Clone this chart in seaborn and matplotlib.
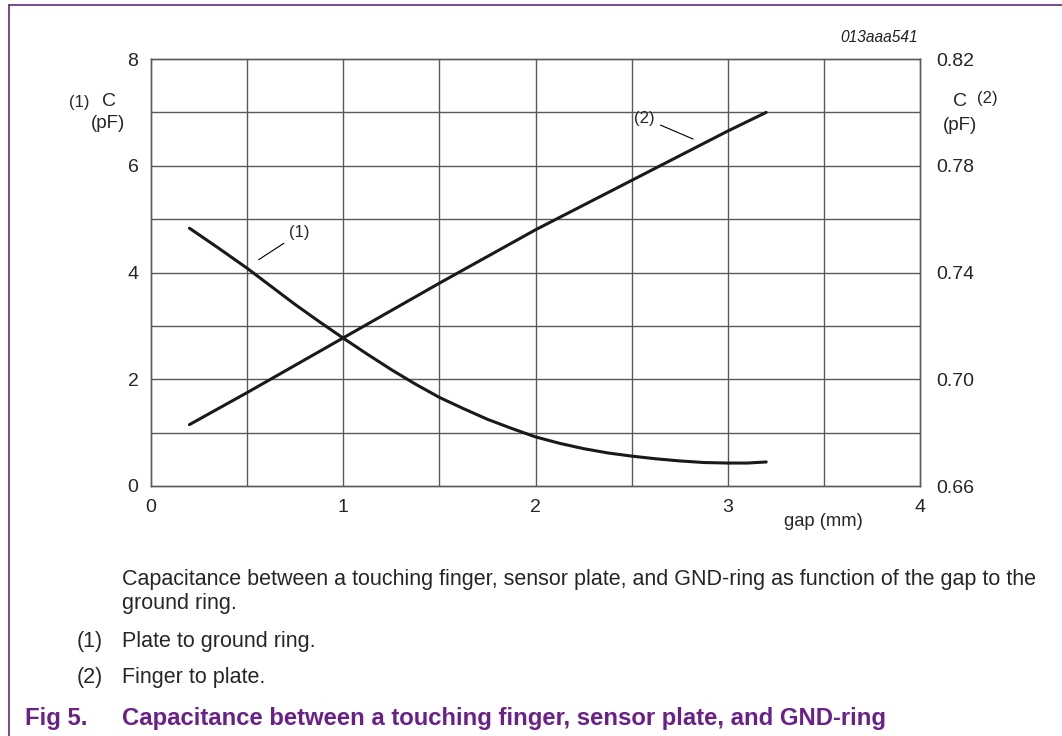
import matplotlib
matplotlib.use('Agg')
import matplotlib.pyplot as plt
import seaborn as sns
import pandas as pd
from matplotlib.lines import Line2D

# ---- data ----
gap_plate = [0.2, 0.35, 0.5, 0.625, 0.75, 0.875, 1.0, 1.125, 1.25, 1.375, 1.5, 1.625,
             1.75, 1.875, 2.0, 2.125, 2.25, 2.375, 2.5, 2.625, 2.75, 2.875, 3.0, 3.1, 3.2]
c_plate = [4.83, 4.46, 4.08, 3.74, 3.40, 3.08, 2.77, 2.47, 2.18, 1.91, 1.66, 1.45,
           1.25, 1.08, 0.92, 0.80, 0.70, 0.62, 0.56, 0.51, 0.47, 0.44, 0.43, 0.43, 0.45]

gap_finger = [0.2, 0.5, 1.0, 1.5, 1.75, 2.0, 2.5, 3.0, 3.2]
c_finger = [0.683, 0.695, 0.7155, 0.736, 0.746, 0.756, 0.7745, 0.793, 0.800]

x_ticks = [0, 1, 2, 3, 4]
left_ticks = [0, 2, 4, 6, 8]
right_ticks = [0.66, 0.70, 0.74, 0.78, 0.82]

PURPLE = '#6a2089'
GRID = '#5a5a5a'

sns.set_style('white')
plt.rcParams['font.family'] = ['Liberation Sans', 'DejaVu Sans']

fig = plt.figure(figsize=(10.62, 7.36), dpi=100)
ax = fig.add_axes([151 / 1062, 1 - 486 / 736, 769 / 1062, 427 / 736])
ax2 = ax.twinx()

df1 = pd.DataFrame({'gap': gap_plate, 'C': c_plate})
df2 = pd.DataFrame({'gap': gap_finger, 'C': c_finger})

ax.set_xlim(0, 4)
ax.set_ylim(0, 8)
ax2.set_ylim(0.66, 0.82)

# grid: every 0.5 mm and every 1 pF
for gx in [i * 0.5 for i in range(1, 8)]:
    ax.axvline(gx, color=GRID, lw=1.0, zorder=0)
for gy in range(1, 8):
    ax.axhline(gy, color=GRID, lw=1.0, zorder=0)

sns.lineplot(data=df1, x='gap', y='C', ax=ax, color='#1a1a1a', lw=2.2, sort=False)
sns.lineplot(data=df2, x='gap', y='C', ax=ax2, color='#1a1a1a', lw=2.2, sort=False)

ax.set_xticks(x_ticks)
ax.set_xticklabels([str(t) for t in x_ticks], fontsize=14)
ax.set_yticks(left_ticks)
ax.set_yticklabels([str(t) for t in left_ticks], fontsize=14)
ax2.set_yticks(right_ticks)
ax2.set_yticklabels([f'{t:.2f}' for t in right_ticks], fontsize=14)
ax.tick_params(which='both', length=0, pad=9)
ax2.tick_params(which='both', length=0, pad=12)
ax.set_xlabel('')
ax.set_ylabel('')
ax2.set_ylabel('')
for a in (ax, ax2):
    for s in a.spines.values():
        s.set_color(GRID)
        s.set_linewidth(1.0)

# curve labels with leader lines
ax.annotate('(1)', xy=(0.56, 4.24), xytext=(0.72, 4.6), fontsize=12,
            ha='left', va='bottom',
            arrowprops=dict(arrowstyle='-', color='black', lw=0.8, shrinkA=2, shrinkB=0))
ax.annotate('(2)', xy=(2.82, 6.5), xytext=(2.62, 6.75), fontsize=12,
            ha='right', va='bottom',
            arrowprops=dict(arrowstyle='-', color='black', lw=0.8, shrinkA=2, shrinkB=0))

# axis titles and code
fig.text(918 / 1062, 1 - 38 / 736, '013aaa541', fontsize=11.2, style='italic',
         ha='right', va='center', color='#222222')
fig.text(79 / 1062, 1 - 102 / 736, '(1)', fontsize=12, ha='center', va='center')
fig.text(109 / 1062, 1 - 101 / 736, 'C', fontsize=14, ha='center', va='center')
fig.text(108 / 1062, 1 - 124 / 736, '(pF)', fontsize=13.5, ha='center', va='center')
fig.text(960 / 1062, 1 - 101 / 736, 'C', fontsize=14, ha='center', va='center')
fig.text(987 / 1062, 1 - 98 / 736, '(2)', fontsize=12, ha='center', va='center')
fig.text(960 / 1062, 1 - 125 / 736, '(pF)', fontsize=13.5, ha='center', va='center')
fig.text(823 / 1062, 1 - 522 / 736, 'gap (mm)', fontsize=13.2, ha='center', va='center')

# caption
fig.text(122 / 1062, 1 - 580 / 736,
         'Capacitance between a touching finger, sensor plate, and GND-ring as function of the gap to the',
         fontsize=15.5, ha='left', va='center')
fig.text(122 / 1062, 1 - 604 / 736, 'ground ring.', fontsize=15.5, ha='left', va='center')
fig.text(77 / 1062, 1 - 642 / 736, '(1)', fontsize=15.5, ha='left', va='center')
fig.text(122 / 1062, 1 - 642 / 736, 'Plate to ground ring.', fontsize=15.5, ha='left', va='center')
fig.text(77 / 1062, 1 - 677 / 736, '(2)', fontsize=15.5, ha='left', va='center')
fig.text(122 / 1062, 1 - 677 / 736, 'Finger to plate.', fontsize=15.5, ha='left', va='center')
fig.text(25 / 1062, 1 - 718 / 736, 'Fig 5.', fontsize=17.2, fontweight='bold',
         color=PURPLE, ha='left', va='center')
fig.text(122 / 1062, 1 - 718 / 736,
         'Capacitance between a touching finger, sensor plate, and GND-ring',
         fontsize=17.2, fontweight='bold', color=PURPLE, ha='left', va='center')

# page frame (top and left rule)
fig.add_artist(Line2D([9 / 1062, 1], [1 - 5 / 736, 1 - 5 / 736], color='#5b2c7c', lw=1.2))
fig.add_artist(Line2D([9 / 1062, 9 / 1062], [0, 1 - 5 / 736], color='#5b2c7c', lw=1.2))

plt.savefig('out.png', dpi=100)
